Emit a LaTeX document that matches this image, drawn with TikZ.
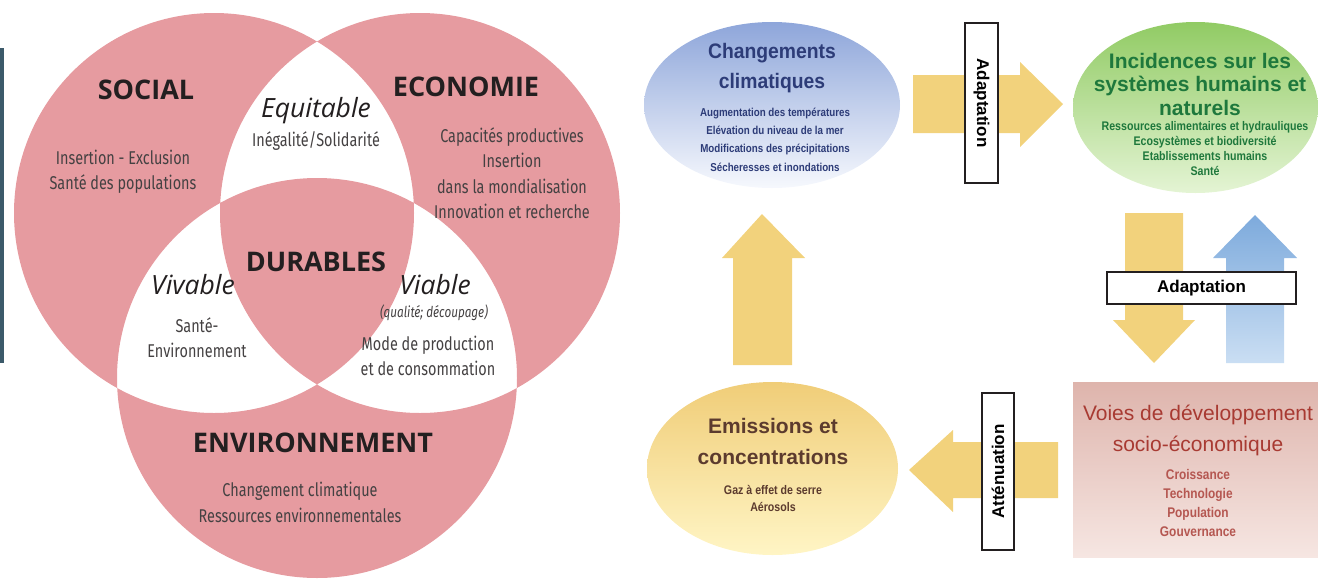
\documentclass[tikz,border=0pt]{standalone}
\usepackage{fontspec}
\setmainfont{Liberation Sans}
\newfontfamily\vennfont{Open Sans}
\newfontfamily\venncond[FakeStretch=0.78]{Fira Sans}
\newfontfamily\narrowfont[FakeStretch=0.85]{Liberation Sans}
\newfontfamily\titlefont[FakeStretch=0.92]{Liberation Sans}
\usetikzlibrary{shapes.geometric}

\definecolor{vennpink}{RGB}{230,155,160}
\definecolor{edgebar}{RGB}{60,90,106}
\definecolor{vennink}{RGB}{35,31,32}
\definecolor{arrowyellow}{RGB}{242,210,124}
\definecolor{bluetop}{RGB}{142,166,218}
\definecolor{bluebot}{RGB}{246,248,253}
\definecolor{bluetext}{RGB}{45,60,120}
\definecolor{greentop}{RGB}{145,203,100}
\definecolor{greenbot}{RGB}{228,244,212}
\definecolor{greentext}{RGB}{30,120,60}
\definecolor{yellowtop}{RGB}{240,205,120}
\definecolor{yellowbot}{RGB}{255,245,197}
\definecolor{browntext}{RGB}{92,59,46}
\definecolor{rosetop}{RGB}{222,180,172}
\definecolor{rosebot}{RGB}{246,230,226}
\definecolor{redtext}{RGB}{168,58,50}
\definecolor{upbluetop}{RGB}{125,170,220}
\definecolor{upbluebot}{RGB}{202,222,243}

\tikzset{
  venntitle/.style={font=\vennfont\bfseries\fontsize{27}{30}\selectfont, text=vennink},
  venntext/.style={font=\venncond\fontsize{18.5}{25.5}\selectfont, align=center, text=vennink!85},
  vennqual/.style={font=\vennfont\itshape\fontsize{26.5}{28}\selectfont, text=vennink},
  bubble/.style={ellipse, inner sep=0pt},
  bigtitle/.style={font=\titlefont\bfseries\fontsize{21}{30.5}\selectfont, align=center},
  subtext/.style={font=\narrowfont\bfseries\fontsize{11.5}{18.3}\selectfont, align=center},
  labelbox/.style={draw=vennink, line width=1.5pt, fill=white, inner sep=0pt,
    font=\bfseries\fontsize{17}{17}\selectfont}
}

\begin{document}
\begin{tikzpicture}[x=1pt,y=-1pt]
  \useasboundingbox (0,0) rectangle (1318,579);

  % Venn diagram
  \fill[edgebar] (0,48) rectangle (4,363);
  \coordinate (social) at (214,213);
  \coordinate (economie) at (420,213);
  \coordinate (environ) at (317,378);
  \fill[vennpink, even odd rule]
    (social) circle[radius=200pt]
    (economie) circle[radius=200pt]
    (environ) circle[radius=200pt];

  \node[venntitle] (tsocial) at (146,90) {SOCIAL};
  \node[venntext] (xsocial) at (123,172) {Insertion - Exclusion\\Santé des populations};
  \node[vennqual] (tequit) at (316,111) {Equitable};
  \node[venntext] (xequit) at (316,141) {Inégalité/Solidarité};
  \node[venntitle] (teco) at (466,87) {ECONOMIE};
  \node[venntext] (xeco) at (512,173) {Capacités productives\\Insertion\\dans la mondialisation\\Innovation et recherche};
  \node[venntitle] (tdur) at (316,262) {DURABLES};
  \node[vennqual] (tviv) at (193,285) {Vivable};
  \node[venntext] (xviv) at (197,337.5) {Santé-\\Environnement};
  \node[vennqual] (tvia) at (435,285) {Viable};
  \node[venntext, font=\venncond\itshape\fontsize{15}{16}\selectfont] (qvia) at (434,313) {(qualité; découpage)};
  \node[venntext] (xvia) at (428,356) {Mode de production\\et de consommation};
  \node[venntitle] (tenv) at (313,443) {ENVIRONNEMENT};
  \node[venntext] (xenv) at (300,502.5) {Changement climatique\\Ressources environnementales};

  % cycle
  \node[bubble, minimum width=256pt, minimum height=166pt, top color=bluetop, bottom color=bluebot] (climat) at (772,105) {};
  \node[bubble, minimum width=245pt, minimum height=171pt, top color=greentop, bottom color=greenbot] (incid) at (1195.5,107.5) {};
  \node[bubble, minimum width=251pt, minimum height=173pt, top color=yellowtop, bottom color=yellowbot] (emis) at (772.5,468.5) {};
  \node[inner sep=0pt, minimum width=245pt, minimum height=175pt, top color=rosetop, bottom color=rosebot] (voies) at (1195.5,469.5) {};

  \node[bigtitle, text=bluetext] at (772,68) {Changements\\climatiques};
  \node[subtext, text=bluetext] at (775,139.5) {Augmentation des températures\\Elévation du niveau de la mer\\Modifications des précipitations\\Sécheresses et inondations};
  \node[bigtitle, text=greentext, font=\bfseries\fontsize{21}{23.5}\selectfont] at (1200,84) {Incidences sur les\\systèmes humains et\\naturels};
  \node[subtext, text=greentext, font=\narrowfont\bfseries\fontsize{12.5}{15}\selectfont] at (1205,148.5) {Ressources alimentaires et hydrauliques\\Ecosystèmes et biodiversité\\Etablissements humains\\Santé};
  \node[bigtitle, text=redtext, font=\fontsize{21}{31}\selectfont] at (1198,430.5) {Voies de développement\\socio-économique};
  \node[subtext, text=redtext!85, font=\narrowfont\bfseries\fontsize{14}{18.7}\selectfont] at (1198,503) {Croissance\\Technologie\\Population\\Gouvernance};
  \node[bigtitle, text=browntext, font=\bfseries\fontsize{21}{31}\selectfont] at (773,441.5) {Emissions et\\concentrations};
  \node[subtext, text=browntext, font=\narrowfont\bfseries\fontsize{12.5}{17}\selectfont] at (773,498.5) {Gaz à effet de serre\\Aérosols};

  % block arrows
  \fill[arrowyellow] (913,75) -- (1020,75) -- (1020,62) -- (1063,104) -- (1020,147) -- (1020,133) -- (913,133) -- cycle;
  \fill[arrowyellow] (1125,213) -- (1183,213) -- (1183,320) -- (1195,320) -- (1154,363) -- (1113,320) -- (1125,320) -- cycle;
  \shade[top color=upbluetop, bottom color=upbluebot] (1226,363) -- (1284,363) -- (1284,258) -- (1297,258) -- (1255,215) -- (1213,258) -- (1226,258) -- cycle;
  \fill[arrowyellow] (1058,442) -- (953,442) -- (953,430) -- (909,470) -- (953,512) -- (953,498) -- (1058,498) -- cycle;
  \fill[arrowyellow] (733,365) -- (792,365) -- (792,258) -- (805,258) -- (762,214) -- (722,258) -- (733,258) -- cycle;

  \node[labelbox, minimum width=160pt, minimum height=33pt, rotate=-90] (adapt1) at (981.5,103) {Adaptation};
  \node[labelbox, minimum width=189pt, minimum height=32pt] (adapt2) at (1201.5,288) {Adaptation};
  \node[labelbox, minimum width=157pt, minimum height=32pt, rotate=90] (attenu) at (998,471.5) {Atténuation};
\end{tikzpicture}
\end{document}
